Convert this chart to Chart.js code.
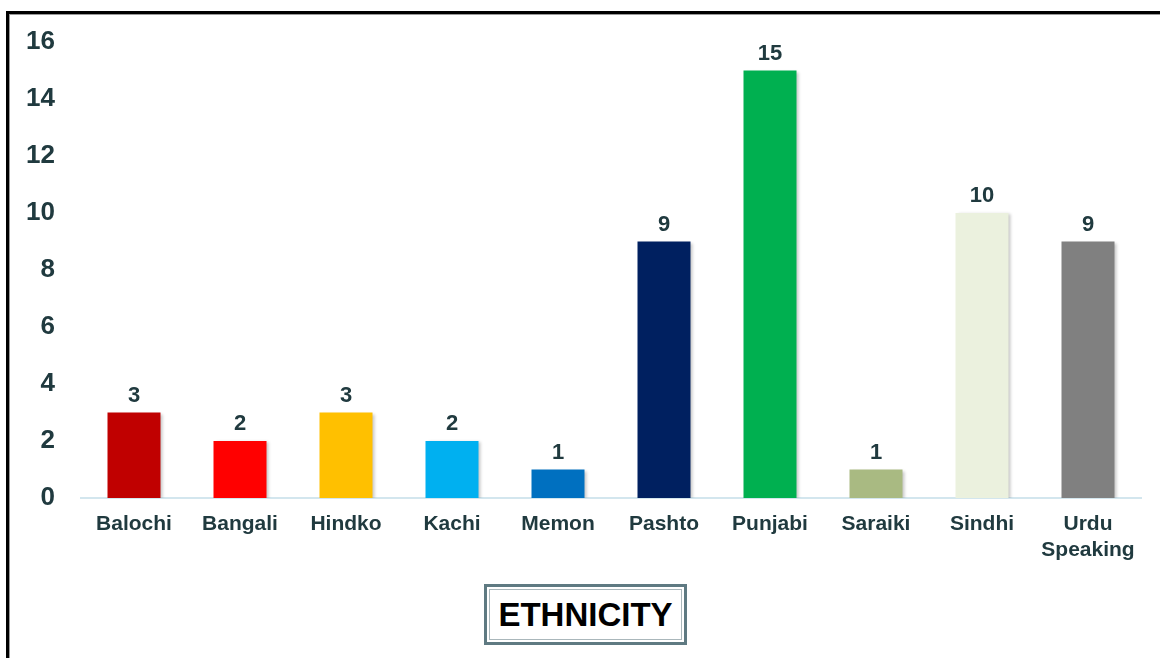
<!DOCTYPE html>
<html>
<head>
<meta charset="utf-8">
<script src="https://cdn.jsdelivr.net/npm/chart.js@4"></script>
<style>
    html, body {
        margin: 0;
        padding: 0;
        background: #fff;
        overflow: hidden;
    }
    .frame {
        position: absolute;
        left: 6px;
        top: 11px;
        width: 1200px;
        height: 700px;
        border-left: 3px solid #000;
        border-top: 3px solid #000;
        box-shadow: inset 1px 1px 0 #9a9a9a;
    }
    .chart-box {
        position: absolute;
        left: 0;
        top: 0;
        width: 1160px;
        height: 580px;
    }
    .title-box {
        position: absolute;
        left: 484px;
        top: 584px;
        width: 197px;
        height: 55px;
        border: 3px solid #5f7a82;
        box-shadow: inset 0 0 0 2px #fff, inset 0 0 0 3px #aab7bb;
        font: bold 33px 'Liberation Sans', Arial, sans-serif;
        color: #000;
        text-align: center;
        line-height: 55px;
    }
</style>
</head>
<body>
<div class="frame"></div>
<div class="chart-box">
    <canvas id="ethnicityChart"></canvas>
</div>
<div class="title-box">ETHNICITY</div>

<script>
const categories = ['Balochi', 'Bangali', 'Hindko', 'Kachi', 'Memon', 'Pashto', 'Punjabi', 'Saraiki', 'Sindhi', ['Urdu', 'Speaking']];
const counts = [3, 2, 3, 2, 1, 9, 15, 1, 10, 9];
const barColors = ['#C00000', '#FF0000', '#FFC000', '#00B0F0', '#0070C0', '#002060', '#00B050', '#A9BA82', '#EBF1DE', '#808080'];
const yTicks = [0, 2, 4, 6, 8, 10, 12, 14, 16];

const textColor = '#203a3f';
Chart.defaults.font.family = "'Liberation Sans', Arial, sans-serif";

// light drop shadow under the bars
const barShadow = {
    id: 'barShadow',
    beforeDatasetsDraw(chart) {
        const ctx = chart.ctx;
        ctx.save();
        ctx.shadowColor = 'rgba(0, 0, 0, 0.22)';
        ctx.shadowBlur = 3;
        ctx.shadowOffsetX = 2;
        ctx.shadowOffsetY = 1;
    },
    afterDatasetsDraw(chart) {
        chart.ctx.restore();
    }
};

// value written above each bar
const valueLabels = {
    id: 'valueLabels',
    afterDatasetsDraw(chart) {
        const ctx = chart.ctx;
        const meta = chart.getDatasetMeta(0);
        ctx.save();
        ctx.font = "bold 22px 'Liberation Sans', Arial, sans-serif";
        ctx.fillStyle = textColor;
        ctx.textAlign = 'center';
        ctx.textBaseline = 'middle';
        meta.data.forEach((bar, i) => {
            ctx.fillText(counts[i], bar.x, bar.y - 17);
        });
        ctx.restore();
    }
};

const ctxBar = document.getElementById('ethnicityChart').getContext('2d');
new Chart(ctxBar, {
    type: 'bar',
    data: {
        labels: categories,
        datasets: [{
            data: counts,
            backgroundColor: barColors,
            borderWidth: 0,
            barPercentage: 0.5,
            categoryPercentage: 1
        }]
    },
    options: {
        responsive: true,
        maintainAspectRatio: false,
        animation: false,
        layout: {
            padding: { top: 42, right: 19, left: 0, bottom: 0 }
        },
        plugins: {
            legend: { display: false },
            tooltip: { enabled: false }
        },
        scales: {
            x: {
                grid: { display: false, drawTicks: false },
                border: { display: true, color: '#d3e6ee', width: 2 },
                ticks: {
                    padding: 14,
                    color: textColor,
                    font: { size: 21, weight: 'bold', lineHeight: 1.2 },
                    maxRotation: 0,
                    autoSkip: false
                },
                afterFit(scale) {
                    scale.height = 82;
                }
            },
            y: {
                min: 0,
                max: 16,
                grid: { display: false, drawTicks: false },
                border: { display: false },
                afterBuildTicks(scale) {
                    scale.ticks = yTicks.map(v => ({ value: v }));
                },
                ticks: {
                    padding: 26,
                    color: textColor,
                    font: { size: 26, weight: 'bold' }
                },
                afterFit(scale) {
                    scale.width = 81;
                }
            }
        }
    },
    plugins: [barShadow, valueLabels]
});
</script>
</body>
</html>
